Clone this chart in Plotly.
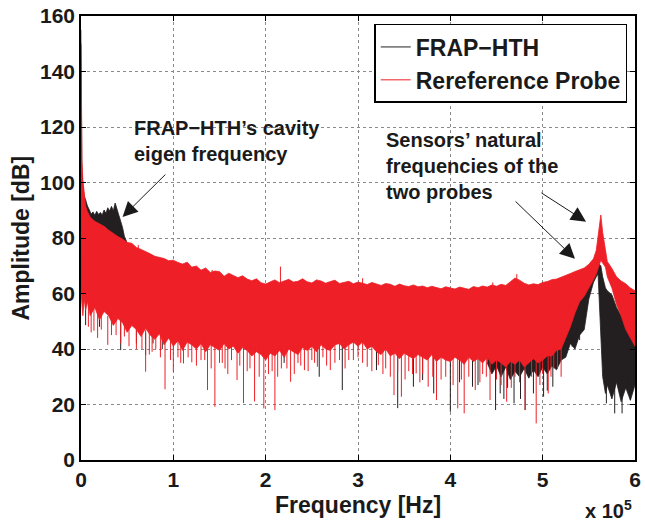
import plotly.graph_objects as go

SCALE = 1e5  # frequency arrays below are in units of 1e5 Hz

# ---------------- Reference probe (red): envelope of dense spectrum ----------------
red_f = [0, 0.003, 0.01, 0.02, 0.035, 0.05, 0.07,
         0.1, 0.15, 0.2, 0.25, 0.3, 0.35, 0.4, 0.45, 0.5, 0.55, 0.6, 0.65, 0.7, 0.75, 0.8, 0.85, 0.9, 0.95,
         1.0, 1.05, 1.1, 1.15, 1.2, 1.25, 1.3, 1.35, 1.4, 1.45, 1.5, 1.55, 1.6, 1.65, 1.7, 1.75, 1.8, 1.85, 1.9, 1.95,
         2.0, 2.05, 2.1, 2.15, 2.2, 2.25, 2.3, 2.35, 2.4, 2.45, 2.5, 2.55, 2.6, 2.65, 2.7, 2.75, 2.8, 2.85, 2.9, 2.95,
         3.0, 3.05, 3.1, 3.15, 3.2, 3.25, 3.3, 3.35, 3.4, 3.45, 3.5, 3.55, 3.6, 3.65, 3.7, 3.75, 3.8, 3.85, 3.9, 3.95,
         4.0, 4.05, 4.1, 4.15, 4.2, 4.25, 4.3, 4.35, 4.4, 4.45, 4.5, 4.55, 4.6, 4.65, 4.7, 4.75, 4.8, 4.85, 4.9, 4.95,
         5.0, 5.05, 5.1, 5.15, 5.2, 5.25, 5.3, 5.35, 5.4, 5.45, 5.5,
         5.55, 5.58, 5.6, 5.63, 5.65, 5.68, 5.7, 5.75, 5.8, 5.85, 5.9, 5.95, 6.0]
red_upper = [155, 125, 108, 101, 96, 91.5, 89.5,
             87.5, 86, 85, 84.2, 82.8, 81.6, 80.5, 79.6, 78.4, 78.1, 76.6, 75.9, 75.2, 74.3, 73.4, 72.9, 72.6, 71.8,
             72, 71.2, 70.6, 71.3, 69.5, 69.9, 68.4, 69.2, 67.6, 68.1, 67.9, 66.2, 67.3, 66.5, 65.7, 66.4, 65.2, 64.6, 65.3, 63.9,
             63.4, 64.2, 64.9, 63.9, 64.6, 65.1, 64.1, 64.4, 65.3, 64.2, 63.8, 64.9, 64.5, 63.7, 64.3, 64.8, 63.6, 63.9, 64.4, 63.5,
             64.1, 63.7, 63.2, 64, 63.4, 62.9, 63.6, 63.3, 62.6, 63.4, 62.8, 62.5, 63.1, 62.4, 62.7, 62.1, 62.6, 62.2, 61.7, 62.4,
             62, 61.6, 62.3, 61.9, 61.5, 62.5, 62.1, 62.7, 62.3, 63.1, 62.6, 63.3, 62.9, 64.2, 65.6, 64.8, 63.7, 63.1, 63.5, 63.2,
             64, 64.3, 65, 65.2, 65.8, 66.6, 67.2, 67.9, 68.5, 69.2, 70.5,
             72.5, 75.5, 81.5, 88.3, 82, 74.5, 71.5, 69, 66, 64.5, 63.5, 62, 61]
red_lower = [95, 60, 56, 52, 58, 54, 57,
             52, 55, 50.5, 53.5, 52, 48.5, 51, 49.5, 46, 48.5, 47, 44.5, 47.5, 45, 43.5, 45.5, 41.5, 44,
             41, 43, 39.5, 42.5, 41.5, 40, 42, 39, 41.5, 40.5, 39.5, 42, 40, 41, 38.5, 40.5, 39.5, 37.5, 39, 38,
             36, 38.5, 37.5, 39.5, 37, 40, 39, 38, 40.5, 39.5, 41, 39, 41.5, 40, 39.5, 41.5, 42, 40, 41.5, 42.5,
             41, 42.5, 40, 41, 39, 38, 40, 37.5, 38.5, 36.5, 38.5, 37.5, 36.5, 38, 37, 36, 38, 35.5, 37, 36,
             35.5, 37, 36, 34.5, 37, 35.5, 36.5, 35, 37, 34.5, 36, 35, 33.5, 35.5, 34.5, 36, 33.5, 35, 36.5, 35,
             36, 37.5, 37.5, 39.5, 40, 44, 48, 53, 57, 59, 62,
             65, 67, 69, 72, 71, 69.5, 66, 62, 56, 52, 47, 44, 41]

# red isolated spikes (downward dips)
red_spike_f = [0.08, 0.14, 0.22, 0.29, 0.38, 0.47, 0.6, 0.70, 0.77, 0.81,
               0.91, 1.0, 1.05, 1.11, 1.2, 1.3, 1.37, 1.45, 1.5, 1.56,
               1.63, 1.69, 1.76, 1.83, 1.88, 1.98, 2.03, 2.1, 2.17, 2.27,
               2.35, 2.42, 2.5, 2.56, 2.62, 2.70, 2.8, 2.9, 3.0, 3.1,
               3.22, 3.3, 3.39, 3.47, 3.55, 3.63, 3.7, 3.76, 3.85, 3.95,
               4.08, 4.15, 4.2, 4.27, 4.35, 4.43, 4.5, 4.61, 4.7, 4.81,
               4.88, 4.93, 5.0, 5.06, 5.12, 5.2,
               0.11, 0.18, 0.33, 0.43, 0.52, 0.66, 0.74, 0.86, 0.97, 1.08,
               1.16, 1.25, 1.34, 1.41, 1.53, 1.59, 1.72, 1.8, 1.93, 2.07,
               2.13, 2.23, 2.31, 2.38, 2.46, 2.53, 2.66, 2.75, 2.86, 2.95,
               3.05, 3.15, 3.27, 3.35, 3.43, 3.51, 3.59, 3.67, 3.81, 3.9,
               4.03, 4.12, 4.32, 4.39, 4.55, 4.66, 4.75, 4.97, 5.09, 5.16]
red_spike_low = [48, 46.6, 47, 41.5, 45, 44.5, 40, 31.8, 39, 40,
                 25.5, 31.8, 37, 34.8, 35.2, 36, 25.2, 19.2, 35, 33,
                 36, 28.8, 20.5, 33, 21.1, 18.6, 31, 18, 33, 28.2,
                 35, 32.4, 36, 33.6, 37, 32.4, 36, 36, 37, 33.6,
                 34.2, 33, 23.4, 22.8, 32, 31.2, 31, 26.4, 21.6, 30,
                 18.6, 16.8, 30, 25.2, 31, 21.6, 29, 21, 30, 18,
                 30, 13.2, 31, 24, 33, 30,
                 46, 44, 45, 42, 41, 40, 38, 37, 36, 35,
                 37, 34, 36, 33, 35, 31, 34, 32, 30, 32,
                 30, 33, 31, 34, 32, 35, 34, 35, 33, 36,
                 35, 32, 31, 30, 32, 29, 31, 28, 30, 29,
                 27, 29, 28, 30, 27, 26, 28, 27, 30, 33]
red_spike_high = [56, 56, 53, 52, 51, 51, 48, 47, 47, 46,
                  46, 45, 45, 44, 44, 43, 43, 43, 43, 43,
                  42, 42, 42, 41, 41, 40, 40, 40, 41, 42,
                  42, 42, 42, 43, 43, 43, 43, 44, 44, 43,
                  42, 41, 40, 40, 40, 39, 39, 39, 39, 39,
                  38, 38, 38, 38, 38, 38, 37, 37, 37, 38,
                  38, 38, 39, 39, 41, 43,
                  55, 54, 53, 52, 50, 48, 48, 47, 46, 45,
                  45, 44, 44, 44, 43, 43, 42, 42, 41, 41,
                  41, 41, 42, 42, 42, 43, 43, 43, 44, 44,
                  44, 43, 42, 41, 40, 40, 40, 39, 39, 39,
                  38, 38, 38, 38, 37, 37, 38, 38, 40, 42]
# red isolated upward spikes
red_peak_f = [0.62, 1.42, 2.16, 3.05, 4.46, 4.72]
red_peak_low = [75, 66, 63, 62, 61, 64]
red_peak_high = [77.5, 68.5, 69.7, 65.5, 64, 67]

# ---------------- FRAP-HTH (black) ----------------
black_f1 = [0, 0.003, 0.01, 0.02, 0.035, 0.05, 0.07, 0.09, 0.11, 0.13, 0.15, 0.17, 0.19, 0.21, 0.23,
            0.25, 0.27, 0.29, 0.31, 0.33, 0.35, 0.37, 0.39, 0.41, 0.43, 0.45, 0.47, 0.5, 0.55]
black_upper1 = [150, 118, 104, 99, 95, 93.8, 91.5, 90.2, 88.6, 89.4, 88.2, 89.6, 88.5, 89.2, 88.3,
                90.1, 88.9, 90.9, 89.7, 91.4, 89.8, 92.6, 90.5, 88.2, 85.5, 83.8, 80.6, 78.2, 76.5]
black_lower1 = [65, 62, 60, 58, 60, 58, 58, 57, 57, 57, 56, 56, 56, 55, 55,
                55, 55, 54, 54, 54, 53, 53, 53, 52, 52, 52, 51, 51, 50]

black_f2 = [4.4, 4.45, 4.5, 4.55, 4.6, 4.65, 4.7, 4.75, 4.8, 4.85, 4.9, 4.95,
            5.0, 5.05, 5.1, 5.15, 5.2, 5.25, 5.3, 5.35, 5.4, 5.45, 5.5,
            5.55, 5.58, 5.6, 5.63, 5.65, 5.68, 5.7, 5.75, 5.8, 5.85, 5.9, 5.95, 6.0]
black_upper2 = [60.5, 61, 61, 61.5, 61.5, 62.5, 63.5, 63, 62, 61.5, 62, 61.5,
                62.5, 63, 63.5, 64, 64.5, 63, 62, 63, 64, 65.5, 67,
                69.5, 70.5, 71, 70, 66, 62, 61, 59.5, 55, 52, 49, 45, 43]
black_lower2 = [35, 31, 34, 30, 33.5, 29, 32, 30, 33, 29.5, 32.5, 30,
                33.5, 31, 34, 32.5, 36, 37, 42, 40, 45, 47, 58,
                64, 66, 67, 45, 30, 24, 27, 22, 28, 21, 26, 21.5, 27]

black_spike_f = [0.05, 0.2, 0.43, 0.6, 0.70, 0.78, 0.88, 2.2, 2.58, 2.83,
                 3.2, 3.43, 3.6, 3.7, 3.82, 4.0, 4.1, 4.24, 4.3, 4.49,
                 4.54, 4.58, 4.62, 4.69, 4.76, 4.81, 4.9, 5.01, 5.05, 5.11,
                 5.2, 5.32, 5.4, 5.69, 5.78, 5.86, 5.92, 5.95]
black_spike_low = [48.6, 48, 39.6, 42, 37.8, 42, 40, 35, 30, 25.2,
                   32.4, 18.7, 26.4, 28.8, 24, 17.4, 28, 26.4, 27, 18,
                   24, 22, 26, 20.4, 22, 18, 24, 22.8, 25, 26.4,
                   36, 40.8, 43.2, 20.4, 16.8, 16.8, 26.4, 21.6]
black_spike_high = [56, 53, 52, 47, 46, 46, 45, 41, 42, 43,
                    42, 40, 39, 38, 38, 38, 37, 37, 37, 36,
                    36, 35, 35, 35, 35, 35, 35, 36, 36, 37,
                    39, 45, 50, 30, 28, 26, 30, 25]

y_ticks = [0, 20, 40, 60, 80, 100, 120, 140, 160]
x_ticks = [0, 1, 2, 3, 4, 5, 6]

RED = "#EE1F26"
BLACK = "#231F20"
INK = "#1a1a1a"
FONT = "Liberation Sans, Arial, Helvetica, sans-serif"


def band(f, up, lo, color):
    xs = [v * SCALE for v in f] + [v * SCALE for v in reversed(f)]
    ys = list(up) + list(reversed(lo))
    return go.Scatter(x=xs, y=ys, mode="lines", fill="toself", fillcolor=color,
                      line=dict(color=color, width=0.8), hoverinfo="skip", showlegend=False)


def spikes(f, hi, lo, color, name=None, legend=False):
    xs, ys = [], []
    for a, h, l in zip(f, hi, lo):
        xs += [a * SCALE, a * SCALE, None]
        ys += [h, l, None]
    return go.Scatter(x=xs, y=ys, mode="lines", line=dict(color=color, width=1),
                      name=name, showlegend=legend, hoverinfo="skip")


fig = go.Figure()
fig.add_trace(band(black_f1, black_upper1, black_lower1, BLACK))
fig.add_trace(band(black_f2, black_upper2, black_lower2, BLACK))
fig.add_trace(spikes(black_spike_f, black_spike_high, black_spike_low, BLACK, "FRAP−HTH", True))
fig.add_trace(band(red_f, red_upper, red_lower, RED))
fig.add_trace(spikes(red_spike_f, red_spike_high, red_spike_low, RED, "Rereference Probe", True))
fig.add_trace(spikes(red_peak_f, red_peak_high, red_peak_low, RED))

axis_common = dict(showline=True, linecolor="black", linewidth=1.5, mirror="allticks",
                   ticks="inside", ticklen=5, tickwidth=1, tickcolor="black",
                   showgrid=True, gridcolor="#8a8a8a", griddash="dot", gridwidth=1,
                   zeroline=False,
                   tickfont=dict(family=FONT, size=21, color=INK, weight="bold"))

fig.update_xaxes(range=[0, 6 * SCALE], tickvals=[v * SCALE for v in x_ticks],
                 ticktext=[str(v) for v in x_ticks], **axis_common)
fig.update_yaxes(range=[0, 160], tickvals=y_ticks, **axis_common)

txt = dict(family=FONT, size=20, color=INK, weight="bold")
title_font = dict(family=FONT, size=23, color=INK, weight="bold")
arrow = dict(xref="x", yref="y", axref="x", ayref="y", text="", showarrow=True,
             arrowhead=2, arrowsize=3, arrowwidth=1, arrowcolor=INK)
ann = [
    dict(x=0.55 * SCALE, y=115, xref="x", yref="y", text="FRAP−HTH’s cavity<br>eigen frequency",
         showarrow=False, xanchor="left", yanchor="middle", align="left", font=txt),
    dict(x=3.28 * SCALE, y=106, xref="x", yref="y", text="Sensors’ natural<br>frequencies of the<br>two probes",
         showarrow=False, xanchor="left", yanchor="middle", align="left", font=txt),
    dict(x=0.45 * SCALE, y=87.6, ax=0.93 * SCALE, ay=103.4, **arrow),
    dict(x=5.47 * SCALE, y=85.9, ax=4.97 * SCALE, ay=96.6, **arrow),
    dict(x=5.35 * SCALE, y=72.5, ax=4.69 * SCALE, ay=93.7, **arrow),
    dict(x=0.5, y=-0.101, xref="paper", yref="paper", text="Frequency [Hz]", showarrow=False,
         xanchor="center", yanchor="middle", font=title_font),
    dict(x=-0.109, y=0.5, xref="paper", yref="paper", text="Amplitude [dB]", showarrow=False, textangle=-90,
         xanchor="center", yanchor="middle", font=title_font),
    dict(x=0.999, y=-0.144, xref="paper", yref="paper", text="x 10<sup>5</sup>", showarrow=False,
         xanchor="right", yanchor="bottom", font=dict(family=FONT, size=20, color=INK, weight="bold")),
]

fig.update_layout(
    width=645, height=524,
    margin=dict(l=81, r=4, t=16, b=64),
    plot_bgcolor="white", paper_bgcolor="white",
    annotations=ann,
    legend=dict(x=0.986, y=0.982, xanchor="right", yanchor="top", bgcolor="white",
                bordercolor="black", borderwidth=1.5, traceorder="normal",
                font=dict(family=FONT, size=23, color=INK, weight="bold")),
)

fig.write_html("out.html")
